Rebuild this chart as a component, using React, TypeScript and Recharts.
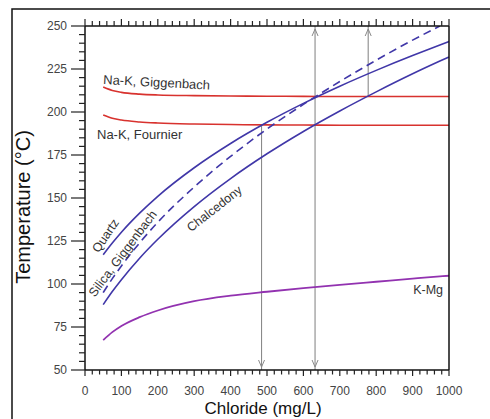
import { LineChart, Line, XAxis, YAxis, ReferenceLine } from "recharts";

// chloride (mg/L) sample points
const chloride = [50, 75, 100, 150, 200, 300, 400, 500, 600, 700, 800, 900, 975, 1000];

// temperatures (°C)
const naKGiggenbach = [214.5, 212.5, 211.4, 210.4, 209.9, 209.5, 209.3, 209.2, 209.1, 209.0, 209.0, 209.0, 209.0, 209.0];
const naKFournier = [198.3, 196.4, 195.3, 194.2, 193.6, 193.0, 192.7, 192.5, 192.4, 192.3, 192.3, 192.3, 192.3, 192.3];
const quartz = [117.0, 123.8, 130.1, 141.2, 151.0, 167.6, 181.7, 194.0, 205.0, 215.0, 224.2, 232.8, 238.9, 241.0];
const silicaGiggenbach = [95.0, 103.1, 110.5, 123.9, 135.9, 156.4, 174.2, 190.1, 204.4, 217.7, 230.1, 241.8, 250.0, null];
const chalcedony = [88.0, 95.6, 102.5, 115.0, 126.0, 145.0, 161.3, 175.7, 188.7, 200.6, 211.7, 222.2, 229.6, 232.0];
const kMg = [67.4, 72.0, 75.6, 80.7, 84.6, 90.0, 93.2, 95.5, 97.6, 99.5, 101.3, 103.1, 104.4, 104.8];

// axis ticks
const xTicks = Array.from({ length: 51 }, (_, i) => i * 20);
const yTicks = Array.from({ length: 41 }, (_, i) => 50 + i * 5);

// arrows: [chloride, from T, to T, heads]
const arrows: [number, number, number, string][] = [
  [485, 192.5, 50, "end"],
  [632, 250, 50, "both"],
  [778, 209, 250, "end"],
];

const data = chloride.map((c, i) => ({
  cl: c,
  gig: naKGiggenbach[i],
  fou: naKFournier[i],
  qtz: quartz[i],
  sil: silicaGiggenbach[i],
  chal: chalcedony[i],
  kmg: kMg[i],
}));

const FONT = "'Liberation Sans', Arial, sans-serif";
const RED = "#d8322e";
const BLUE = "#4037a8";
const PURPLE = "#9232b0";

const BottomTick = (p: any) => {
  const { x, y, payload } = p;
  const v = payload.value;
  const major = v % 100 === 0;
  return (
    <g>
      <line x1={x} x2={x} y1={y} y2={y + (major ? 6 : 4.5)} stroke="#222" strokeWidth={1.2} />
      {major && (
        <text x={x} y={y + 25} textAnchor="middle" fontSize={12} fill="#444" fontFamily={FONT}>
          {v}
        </text>
      )}
    </g>
  );
};

const TopTick = (p: any) => {
  const { x, y, payload } = p;
  const major = payload.value % 100 === 0;
  return <line x1={x} x2={x} y1={y} y2={y - (major ? 7 : 5)} stroke="#222" strokeWidth={1.2} />;
};

const LeftTick = (p: any) => {
  const { x, y, payload } = p;
  const v = payload.value;
  const major = v % 25 === 0;
  return (
    <g>
      <line x1={x - (major ? 14 : 6)} x2={x} y1={y} y2={y} stroke="#222" strokeWidth={1.2} />
      {major && (
        <text x={x - 18} y={y + 4} textAnchor="end" fontSize={12} fill="#444" fontFamily={FONT}>
          {v}
        </text>
      )}
    </g>
  );
};

const RightTick = (p: any) => {
  const { x, y, payload } = p;
  const v = payload.value;
  const major = v % 25 === 0;
  return (
    <g>
      <line x1={x} x2={x + (major ? 12 : 5)} y1={y} y2={y} stroke="#222" strokeWidth={1.2} />
      {major && (
        <text x={x + 17} y={y + 4} textAnchor="start" fontSize={12} fill="#444" fontFamily={FONT}>
          {v}
        </text>
      )}
    </g>
  );
};

const arrowShape = (heads: string) => (p: any) => {
  const { x1, y1, x2, y2 } = p;
  const dx = x2 - x1;
  const dy = y2 - y1;
  const len = Math.sqrt(dx * dx + dy * dy) || 1;
  const ux = dx / len;
  const uy = dy / len;
  const head = (tx: number, ty: number, sx: number, sy: number) => (
    <path
      d={`M${tx - sx * 7 - sy * 3},${ty - sy * 7 + sx * 3} L${tx},${ty} L${tx - sx * 7 + sy * 3},${ty - sy * 7 - sx * 3}`}
      fill="none"
      stroke="#8a8a8a"
      strokeWidth={1}
    />
  );
  return (
    <g>
      <line x1={x1} y1={y1} x2={x2} y2={y2} stroke="#8a8a8a" strokeWidth={1.1} />
      {head(x2 - ux * 3, y2 - uy * 3, ux, uy)}
      {heads === "both" && head(x1 + ux * 3, y1 + uy * 3, -ux, -uy)}
    </g>
  );
};

export default function App() {
  return (
    <div style={{ position: "absolute", left: 0, top: 0, width: 490, height: 419, background: "#fff" }}>
      <LineChart width={490} height={419} data={data} margin={{ top: 25, right: 0, bottom: 0, left: 25 }}>
        <XAxis
          dataKey="cl"
          type="number"
          domain={[0, 1000]}
          ticks={xTicks}
          interval={0}
          height={49}
          tickSize={0}
          tickMargin={0}
          tickLine={false}
          tick={<BottomTick />}
          axisLine={{ stroke: "#111", strokeWidth: 1.5 }}
        />
        <XAxis
          xAxisId="top"
          orientation="top"
          dataKey="cl"
          type="number"
          domain={[0, 1000]}
          ticks={xTicks}
          interval={0}
          height={1}
          tickSize={0}
          tickMargin={0}
          tickLine={false}
          tick={<TopTick />}
          axisLine={{ stroke: "#111", strokeWidth: 1.5 }}
        />
        <YAxis
          type="number"
          domain={[50, 250]}
          ticks={yTicks}
          interval={0}
          width={60}
          tickSize={0}
          tickMargin={0}
          tickLine={false}
          tick={<LeftTick />}
          axisLine={{ stroke: "#111", strokeWidth: 1.5 }}
          allowDataOverflow
        />
        <YAxis
          yAxisId="right"
          orientation="right"
          type="number"
          domain={[50, 250]}
          ticks={yTicks}
          interval={0}
          width={41}
          tickSize={0}
          tickMargin={0}
          tickLine={false}
          tick={<RightTick />}
          axisLine={{ stroke: "#111", strokeWidth: 1.5 }}
        />
        {arrows.map(([c, t0, t1, h]) => (
          <ReferenceLine
            key={c}
            segment={[
              { x: c, y: t0 },
              { x: c, y: t1 },
            ]}
            shape={arrowShape(h)}
          />
        ))}
        <Line type="monotone" dataKey="gig" stroke={RED} strokeWidth={1.6} dot={false} isAnimationActive={false} />
        <Line type="monotone" dataKey="fou" stroke={RED} strokeWidth={1.6} dot={false} isAnimationActive={false} />
        <Line type="monotone" dataKey="qtz" stroke={BLUE} strokeWidth={1.6} dot={false} isAnimationActive={false} />
        <Line
          type="monotone"
          dataKey="sil"
          stroke={BLUE}
          strokeWidth={1.6}
          strokeDasharray="8 5"
          dot={false}
          isAnimationActive={false}
        />
        <Line type="monotone" dataKey="chal" stroke={BLUE} strokeWidth={1.6} dot={false} isAnimationActive={false} />
        <Line type="monotone" dataKey="kmg" stroke={PURPLE} strokeWidth={1.8} dot={false} isAnimationActive={false} />
      </LineChart>
      <svg
        width={490}
        height={419}
        style={{ position: "absolute", left: 0, top: 0, pointerEvents: "none" }}
        fontFamily={FONT}
      >
        <rect x={12} y={9} width={500} height={430} fill="none" stroke="#111" strokeWidth={1.5} />
        <text x={103} y={84} fontSize={13} fill="#333" transform="rotate(3 103 84)">
          Na-K, Giggenbach
        </text>
        <text x={97} y={139} fontSize={13} fill="#333">
          Na-K, Fournier
        </text>
        <text x={109} y={238} fontSize={12.5} fill="#333" textAnchor="middle" transform="rotate(-56 109 238)">
          Quartz
        </text>
        <text x={126} y={256} fontSize={12.5} fill="#333" textAnchor="middle" transform="rotate(-53 126 256)">
          Silica, Giggenbach
        </text>
        <text x={217} y={212} fontSize={12.5} fill="#333" textAnchor="middle" transform="rotate(-38 217 212)">
          Chalcedony
        </text>
        <text x={443} y={294} fontSize={12.5} fill="#333" textAnchor="end">
          K-Mg
        </text>
        <text x={30} y={207} fontSize={20} fill="#111" textAnchor="middle" transform="rotate(-90 30 207)">
          Temperature (°C)
        </text>
        <text x={263} y={414} fontSize={17} fill="#111" textAnchor="middle">
          Chloride (mg/L)
        </text>
      </svg>
    </div>
  );
}
